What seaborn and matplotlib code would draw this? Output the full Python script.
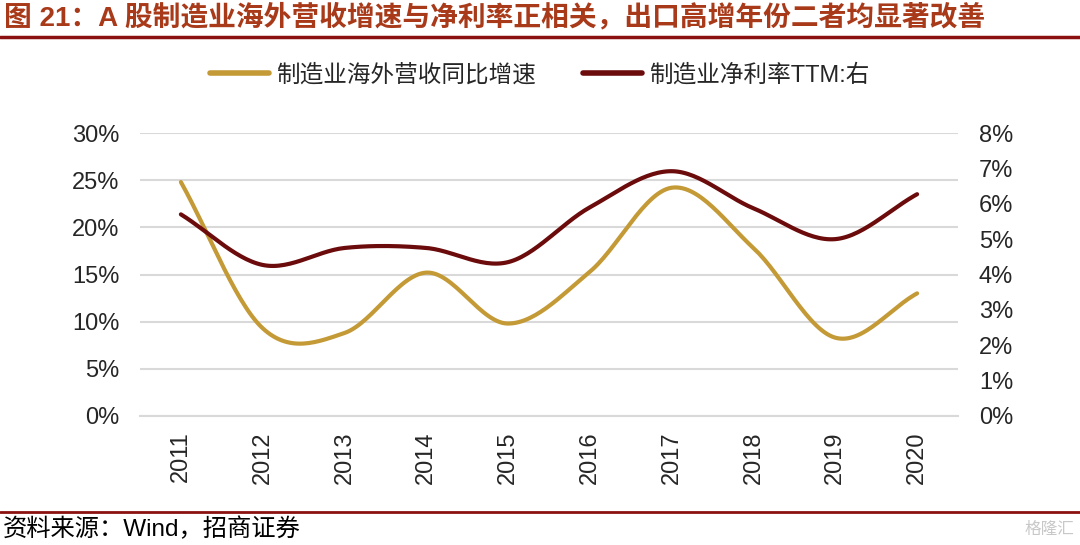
"""
plot.py - overseas revenue growth vs net margin of manufacturing (A-share)
"""
import numpy as np
import pandas as pd
import matplotlib
matplotlib.use('Agg')
import matplotlib.pyplot as plt
from matplotlib.lines import Line2D
from matplotlib.ticker import FuncFormatter, MultipleLocator
import seaborn as sns

# data
years = ['2011', '2012', '2013', '2014', '2015', '2016', '2017', '2018', '2019', '2020']
overseas_growth = [24.8, 9.3, 8.8, 15.2, 9.8, 15.3, 24.2, 17.8, 8.3, 13.0]   # left axis, %
net_margin_ttm = [5.70, 4.27, 4.75, 4.75, 4.35, 5.90, 6.92, 5.87, 5.00, 6.27]  # right axis, %

title = '图 21：A 股制造业海外营收增速与净利率正相关，出口高增年份二者均显著改善'
label_growth = '制造业海外营收同比增速'
label_margin = '制造业净利率TTM:右'
source = '资料来源：Wind，招商证券'

GOLD = '#C49A37'
MAROON = '#6B0B0B'
TITLE_RED = '#A83A1A'
RULE_RED = '#8B1010'
GRID = '#D9D9D9'


def smooth(y, steps=30):
    """Catmull-Rom curve through the points, like Excel's smoothed line."""
    y = np.asarray(y, dtype=float)
    x = np.arange(len(y), dtype=float)
    px = np.concatenate([[2 * x[0] - x[1]], x, [2 * x[-1] - x[-2]]])
    py = np.concatenate([[2 * y[0] - y[1]], y, [2 * y[-1] - y[-2]]])
    xs, ys = [], []
    for i in range(1, len(px) - 2):
        t = np.linspace(0, 1, steps, endpoint=(i == len(px) - 3))
        for p, out in ((px, xs), (py, ys)):
            p0, p1, p2, p3 = p[i - 1], p[i], p[i + 1], p[i + 2]
            out.extend(0.5 * (2 * p1 + (-p0 + p2) * t
                              + (2 * p0 - 5 * p1 + 4 * p2 - p3) * t ** 2
                              + (-p0 + 3 * p1 - 3 * p2 + p3) * t ** 3))
    return np.array(xs), np.array(ys)


sns.set_style('white')
plt.rcParams['font.family'] = ['Liberation Sans', 'Noto Sans CJK SC', 'DejaVu Sans']
plt.rcParams['axes.unicode_minus'] = False

fig = plt.figure(figsize=(10.8, 5.45), dpi=100)
ax = fig.add_axes([140 / 1080, 1 - 416 / 545, (958 - 140) / 1080, (416 - 133) / 545])
ax2 = ax.twinx()

gx, gy = smooth(overseas_growth)
mx, my = smooth(net_margin_ttm)
sns.lineplot(x=gx, y=gy, ax=ax, color=GOLD, linewidth=3, sort=False, legend=False)
sns.lineplot(x=mx, y=my, ax=ax2, color=MAROON, linewidth=3, sort=False, legend=False)

# left axis
ax.set_xlim(-0.5, len(years) - 0.5)
ax.set_ylim(0, 30)
ax.yaxis.set_major_locator(MultipleLocator(5))
ax.yaxis.set_major_formatter(FuncFormatter(lambda v, _: f'{v:.0f}%'))
ax.grid(axis='y', color=GRID, linewidth=1.5)
ax.set_axisbelow(True)
ax.set_xticks(range(len(years)))
ax.set_xticklabels(years, rotation=90, fontsize=17)
ax.set_xticks(np.arange(-0.5, len(years)), minor=True)
ax.tick_params(axis='x', which='major', length=0, pad=11)
ax.tick_params(axis='x', which='minor', length=5, width=1.5, color=GRID, direction='out')
ax.tick_params(axis='y', length=0, labelsize=17, pad=15)
ax.set_xlabel('')
ax.set_ylabel('')

# right axis
ax2.set_ylim(0, 8)
ax2.yaxis.set_major_locator(MultipleLocator(1))
ax2.yaxis.set_major_formatter(FuncFormatter(lambda v, _: f'{v:.0f}%'))
ax2.tick_params(axis='y', length=0, labelsize=17, pad=15)
ax2.set_ylabel('')

for a in (ax, ax2):
    for side in ('top', 'left', 'right'):
        a.spines[side].set_visible(False)
    a.spines['bottom'].set_color(GRID)
    a.spines['bottom'].set_linewidth(1.5)
ax2.spines['bottom'].set_visible(False)

# legend
handles = [Line2D([], [], color=GOLD, linewidth=4),
           Line2D([], [], color=MAROON, linewidth=4)]
fig.legend(handles, [label_growth, label_margin], loc='center',
           bbox_to_anchor=(0.5, 1 - 75 / 545), ncol=2, frameon=False,
           fontsize=17, handlelength=2.5, handletextpad=0.3, columnspacing=2.0)

# title, rules and source
fig.text(0.004, 1 - 18 / 545, title, fontsize=20, fontweight='bold',
         color=TITLE_RED, va='center', ha='left')
fig.add_artist(Line2D([0, 1], [1 - 37 / 545] * 2, color=RULE_RED, linewidth=2.5))
fig.add_artist(Line2D([0, 1], [1 - 512 / 545] * 2, color=RULE_RED, linewidth=2.0))
fig.text(0.003, 1 - 529 / 545, source, fontsize=17.5, color='black', va='center', ha='left')
fig.text(0.995, 1 - 529 / 545, '格隆汇', fontsize=12, color='#C8C8C8', va='center', ha='right')

fig.savefig('out.png', dpi=100)
